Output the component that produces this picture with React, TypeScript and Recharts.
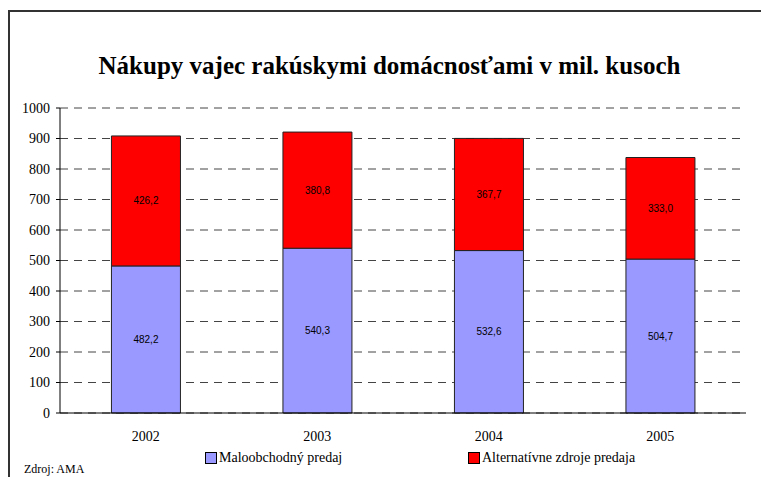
import React from "react";
import { BarChart, Bar, XAxis, YAxis, CartesianGrid, LabelList } from "recharts";

const years = ["2002", "2003", "2004", "2005"];
const retail = [482.2, 540.3, 532.6, 504.7];
const alternative = [426.2, 380.8, 367.7, 333.0];
const yTicks = [0, 100, 200, 300, 400, 500, 600, 700, 800, 900, 1000];
const boundaryTicks = [0, 1, 2, 3, 4];
const seriesNames = ["Maloobchodný predaj", "Alternatívne zdroje predaja"];
const seriesColors = ["#9999FF", "#FF0000"];
const titleText = "Nákupy vajec rakúskymi domácnosťami v mil. kusoch";
const sourceText = "Zdroj: AMA";

const data = years.map((y, i) => ({ year: y, retail: retail[i], alt: alternative[i] }));

const SERIF = "Liberation Serif";
const SANS = "Liberation Sans";

const fmt = (v: any) => Number(v).toFixed(1).replace(".", ",");

export default function App() {
  return (
    <div style={{ position: "absolute", left: 0, top: 0, width: 761, height: 477, background: "#fff", overflow: "hidden" }}>
      <div
        style={{
          position: "absolute",
          left: 8,
          top: 10,
          width: 800,
          height: 500,
          borderLeft: "2px solid #333",
          borderTop: "2px solid #333",
        }}
      />
      <div
        style={{
          position: "absolute",
          left: 0,
          width: 779,
          top: 52,
          textAlign: "center",
          fontFamily: SERIF,
          fontWeight: "bold",
          fontSize: 25,
          color: "#000",
          whiteSpace: "nowrap",
        }}
      >
        {titleText}
      </div>
      <div style={{ position: "absolute", left: 0, top: 0 }}>
        <BarChart
          width={761}
          height={477}
          data={data}
          margin={{ top: 108, right: 15, bottom: 34, left: 10 }}
          barCategoryGap="30%"
        >
          <CartesianGrid
            xAxisId="cat"
            vertical={false}
            stroke="#444"
            strokeDasharray="8 6"
          />
          <XAxis
            xAxisId="ticks"
            type="number"
            domain={[0, 4]}
            ticks={boundaryTicks}
            tickSize={5}
            tickFormatter={() => ""}
            axisLine={false}
            tickLine={{ stroke: "#000" }}
            height={0}
            allowDataOverflow
          />
          <XAxis
            xAxisId="cat"
            dataKey="year"
            tickLine={false}
            axisLine={{ stroke: "#000" }}
            tickMargin={12}
            height={30}
            tick={{ fill: "#000", fontSize: 14, fontFamily: SERIF }}
          />
          <YAxis
            domain={[0, 1000]}
            ticks={yTicks}
            interval={0}
            width={50}
            tickSize={4}
            tickMargin={6}
            axisLine={{ stroke: "#000" }}
            tickLine={{ stroke: "#000" }}
            tick={{ fill: "#000", fontSize: 14, fontFamily: SERIF }}
          />
          <Bar dataKey="retail" xAxisId="cat" stackId="a" fill={seriesColors[0]} stroke="#222" strokeWidth={1} isAnimationActive={false}>
            <LabelList dataKey="retail" position="center" formatter={fmt} fill="#000" fontSize={10} fontFamily={SANS} />
          </Bar>
          <Bar dataKey="alt" xAxisId="cat" stackId="a" fill={seriesColors[1]} stroke="#222" strokeWidth={1} isAnimationActive={false}>
            <LabelList dataKey="alt" position="center" formatter={fmt} fill="#000" fontSize={10} fontFamily={SANS} />
          </Bar>
        </BarChart>
      </div>
      {seriesNames.map((name, i) => (
        <div
          key={name}
          style={{
            position: "absolute",
            left: i === 0 ? 205 : 468,
            top: 450,
            display: "flex",
            alignItems: "center",
            fontFamily: SERIF,
            fontSize: 14,
            color: "#000",
            whiteSpace: "nowrap",
          }}
        >
          <span
            style={{
              display: "inline-block",
              width: 10,
              height: 10,
              background: seriesColors[i],
              border: "1px solid #000",
              marginRight: 2,
            }}
          />
          {name}
        </div>
      ))}
      <div
        style={{
          position: "absolute",
          left: 24,
          top: 462,
          fontFamily: SERIF,
          fontSize: 12,
          color: "#000",
          whiteSpace: "nowrap",
        }}
      >
        {sourceText}
      </div>
    </div>
  );
}
